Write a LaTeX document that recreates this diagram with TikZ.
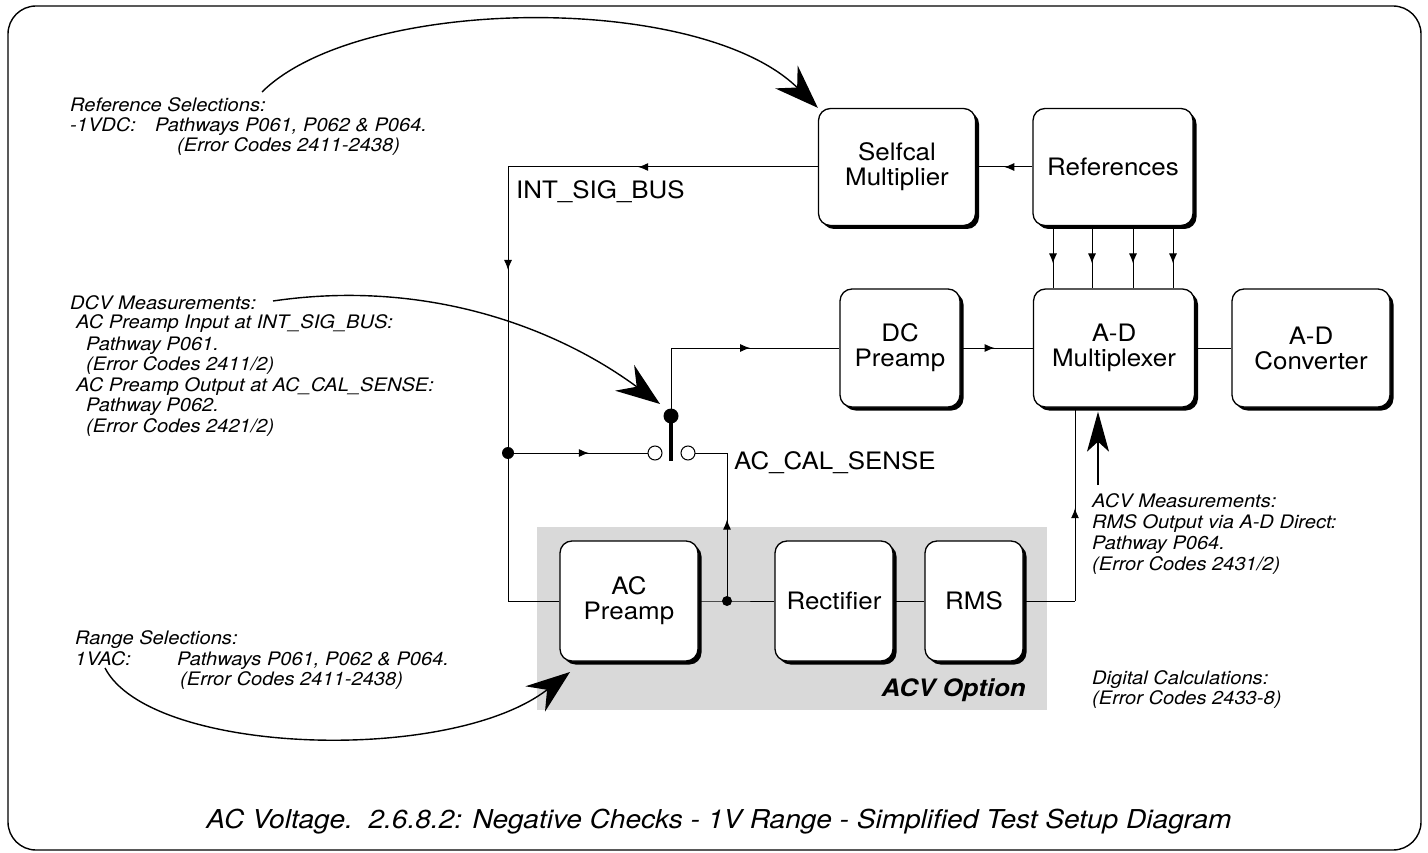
\documentclass[tikz,border=0pt]{standalone}
\usepackage{fontspec}
\setmainfont{TeX Gyre Heros}[FakeStretch=1.08]
\usetikzlibrary{arrows.meta,shadows,decorations.markings,calc}

\newcommand{\boxfont}{\fontsize{24}{25}\selectfont}
\newcommand{\notefont}{\fontsize{18.6}{20}\selectfont\itshape}
\newcommand{\busfont}{\fontsize{24}{26}\selectfont}

\tikzset{
  blk/.style={draw, line width=1.3pt, rounded corners=12pt, fill=white, align=center,
    font=\boxfont, inner sep=0pt,
    drop shadow={shadow xshift=3.5pt, shadow yshift=-3.5pt, fill=black, opacity=1}},
  wire/.style={line width=1pt},
  midarrow/.style={postaction={decorate}, decoration={markings,
    mark=at position #1 with {\arrow{Latex[length=10pt,width=8pt]}}}},
  note/.style={font=\notefont, anchor=base west, inner sep=0pt},
  bigarrow/.style={line width=1.4pt, -{Stealth[length=44pt,width=32pt,inset=15pt]}},
  jdot/.style={circle, fill=black, inner sep=0pt, minimum size=#1},
  term/.style={circle, draw, fill=white, line width=1pt, inner sep=0pt, minimum size=14pt},
}

\begin{document}
\begin{tikzpicture}[x=1pt,y=-1pt]
\useasboundingbox (0,0) rectangle (1428,853);

% outer frame
\draw[line width=1.4pt, rounded corners=28pt] (8,6) rectangle (1421,850);

% shaded ACV option zone
\node[fill=black!15, minimum width=510pt, minimum height=183pt, inner sep=0pt,
      anchor=north west] (acvzone) at (537,527) {};

% junctions and switch
\coordinate (bustop) at (508,167);
\node[jdot=12pt] (j1) at (508,453) {};
\coordinate (acin) at (508,601);
\node[jdot=10pt] (j2) at (727,601) {};
\coordinate (swtop) at (671,348);
\coordinate (bladeend) at (671,461);
\coordinate (sensecorner) at (727,453);
\coordinate (rmsout) at (1075,601);

% blocks
\node[blk, minimum width=157pt, minimum height=117pt] (selfcal) at (897,167) {Selfcal\\Multiplier};
\node[blk, minimum width=160pt, minimum height=117pt] (refs) at (1113,167) {References};
\node[blk, minimum width=120pt, minimum height=118pt] (dcpre) at (900,348) {DC\\Preamp};
\node[blk, minimum width=161pt, minimum height=118pt] (admux) at (1114,348) {A-D\\Multiplexer};
\node[blk, minimum width=158pt, minimum height=118pt] (adconv) at (1311,348) {A-D\\Converter};
\node[blk, minimum width=138pt, minimum height=120pt] (acpre) at (629,601) {AC\\Preamp};
\node[blk, minimum width=118pt, minimum height=120pt] (rect) at (834,601) {Rectifier};
\node[blk, minimum width=98pt, minimum height=120pt] (rms) at (974,601) {RMS};

% wiring
\draw[wire, midarrow=0.5] (refs.west) -- (selfcal.east);
\draw[wire, midarrow=0.58] (selfcal.west) -- (bustop);
\draw[wire, midarrow=0.36] (bustop) -- (j1.center);
\draw[wire] (j1.center) -- (acin) -- (acpre.west);
\draw[wire, midarrow=0.55] (j1.center) -- (655,453);
\draw[wire] (688,453) -- (sensecorner);
\draw[wire, midarrow=0.55] (j2.center) -- (sensecorner);
\draw[wire] (671,416) -- (swtop);
\draw[wire, midarrow=0.47] (swtop) -- (dcpre.west);
\draw[wire, midarrow=0.47] (dcpre.east) -- (admux.west);
\draw[wire] (admux.east) -- (adconv.west);
\foreach \dx in {-60,-21,20,60}
  \draw[wire, midarrow=0.6] ([xshift=\dx pt]refs.south) -- ([xshift=\dx pt]refs.south |- admux.north);
\draw[wire] (acpre.east) -- (j2.center) -- (rect.west);
\draw[wire] (rect.east) -- (rms.west);
\draw[wire] (rms.east) -- (rmsout);
\draw[wire, midarrow=0.48] (rmsout) -- (rmsout |- admux.south);

% switch contacts
\node[term] (tl) at (655,453) {};
\node[term] (tr) at (688,453) {};
\draw[line width=4pt] (671,416) -- (bladeend);
\node[jdot=15pt] (sw) at (671,416) {};

% signal labels
\node[font=\busfont, anchor=west, inner sep=0pt] (intsig) at (516,192) {INT\_SIG\_BUS};
\node[font=\busfont, anchor=west, inner sep=0pt] (calsense) at (734,463) {AC\_CAL\_SENSE};
\node[font=\fontsize{24}{26}\selectfont\bfseries\itshape, anchor=east, inner sep=0pt]
  (acvopt) at (1026,690) {ACV Option};

% reference selections note
\node[note] (rs1) at (70,112) {Reference Selections:};
\node[note] (rs2) at (70,132) {-1VDC:};
\node[note] (rs3) at (155,132) {Pathways P061, P062 \& P064.};
\node[note] (rs4) at (177,152) {(Error Codes 2411-2438)};

% DCV measurements note
\node[note] (dc1) at (70,309) {DCV Measurements:};
\node[note] (dc2) at (76,329) {AC Preamp Input at INT\_SIG\_BUS:};
\node[note] (dc3) at (86,350) {Pathway P061.};
\node[note] (dc4) at (86,370) {(Error Codes 2411/2)};
\node[note] (dc5) at (76,391) {AC Preamp Output at AC\_CAL\_SENSE:};
\node[note] (dc6) at (86,411) {Pathway P062.};
\node[note] (dc7) at (86,432) {(Error Codes 2421/2)};

% range selections note
\node[note] (rg1) at (75,644) {Range Selections:};
\node[note] (rg2) at (75,665) {1VAC:};
\node[note] (rg3) at (177,665) {Pathways P061, P062 \& P064.};
\node[note] (rg4) at (180,685) {(Error Codes 2411-2438)};

% ACV measurements note
\node[note] (ac1) at (1092,507) {ACV Measurements:};
\node[note] (ac2) at (1092,528) {RMS Output via A-D Direct:};
\node[note] (ac3) at (1092,549) {Pathway P064.};
\node[note] (ac4) at (1092,570) {(Error Codes 2431/2)};

% digital calculations note
\node[note] (dg1) at (1092,684) {Digital Calculations:};
\node[note] (dg2) at (1092,704) {(Error Codes 2433-8)};

% pointer arrows
\coordinate (refsrc) at (262,92);
\draw[bigarrow] (refsrc) .. controls (360,-5) and (700,-8) .. (selfcal.north west);
\coordinate (dcvsrc) at (273,301);
\coordinate (dcvtip) at (660,404);
\draw[bigarrow] (dcvsrc) .. controls (430,278) and (560,330) .. (dcvtip);
\coordinate (rngsrc) at (105,668);
\coordinate (rngtip) at (570,672);
\draw[bigarrow] (rngsrc) .. controls (150,755) and (450,765) .. (rngtip);
\coordinate (acvsrc) at (1098,485);
\draw[line width=1.4pt, -{Stealth[length=40pt,width=22pt,inset=10pt]}]
  (acvsrc) -- ([yshift=-4pt]acvsrc |- admux.south);

% caption
\node[font=\fontsize{26}{28}\selectfont\itshape, inner sep=0pt] (title) at (719,822)
  {AC Voltage.\ \ 2.6.8.2: Negative Checks - 1V Range - Simplified Test Setup Diagram};
\end{tikzpicture}
\end{document}
